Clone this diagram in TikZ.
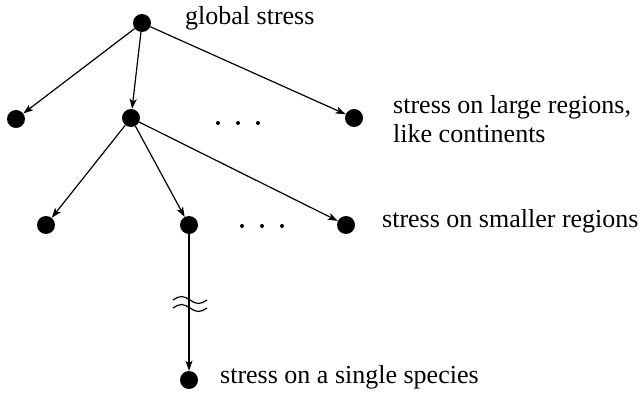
\documentclass[tikz,border=0pt]{standalone}
\usepackage{fontspec}
\setmainfont{Liberation Serif}
\usetikzlibrary{arrows.meta}
\begin{document}
\begin{tikzpicture}[x=1pt,y=-1pt,
  dot/.style={circle, fill=black, inner sep=0pt, minimum size=18pt},
  tip/.style={-{Stealth[length=10pt,width=7pt,inset=2.5pt]}, line width=1.2pt},
  lbl/.style={anchor=base west, inner sep=0pt, font=\fontsize{26}{29}\selectfont}]
\useasboundingbox (0,0) rectangle (642,395);
\node[dot] (top) at (142,23) {};
\node[dot] (ll) at (16,119) {};
\node[dot] (lm) at (131,118) {};
\node[dot] (lr) at (354,118) {};
\node[dot] (sl) at (46,225) {};
\node[dot] (sm) at (189,225) {};
\node[dot] (sr) at (346,225) {};
\node[dot] (sp) at (189,380) {};
\foreach \x in {218,238,258}
     		\fill [black] (\x,123) circle [radius=2pt];
\foreach \x in {242,262,282}
     		\fill [black] (\x,226) circle [radius=2pt];
\draw[tip] (top) -- (ll);
\draw[tip] (top) -- (lm);
\draw[tip] (top) -- (lr);
\draw[tip] (lm) -- (sl);
\draw[tip] (lm) -- (sm);
\draw[tip] (lm) -- (sr);
\draw[tip] (sm) -- (sp);
\draw[line width=1.2pt] (173,300) sin (181.5,296.5) cos (190,300) sin (198.5,303.5) cos (207,300);
\draw[line width=1.2pt] (173,308) sin (181.5,304.5) cos (190,308) sin (198.5,311.5) cos (207,308);
\node[lbl] (tglobal) at (185,25) {global stress};
\node[lbl] (tlarge) at (393,114) {stress on large regions,};
\node[lbl] (tlike) at (393,143) {like continents};
\node[lbl] (tsmall) at (382,228) {stress on smaller regions};
\node[lbl] (tsingle) at (220,383) {stress on a single species};
\end{tikzpicture}
\end{document}
